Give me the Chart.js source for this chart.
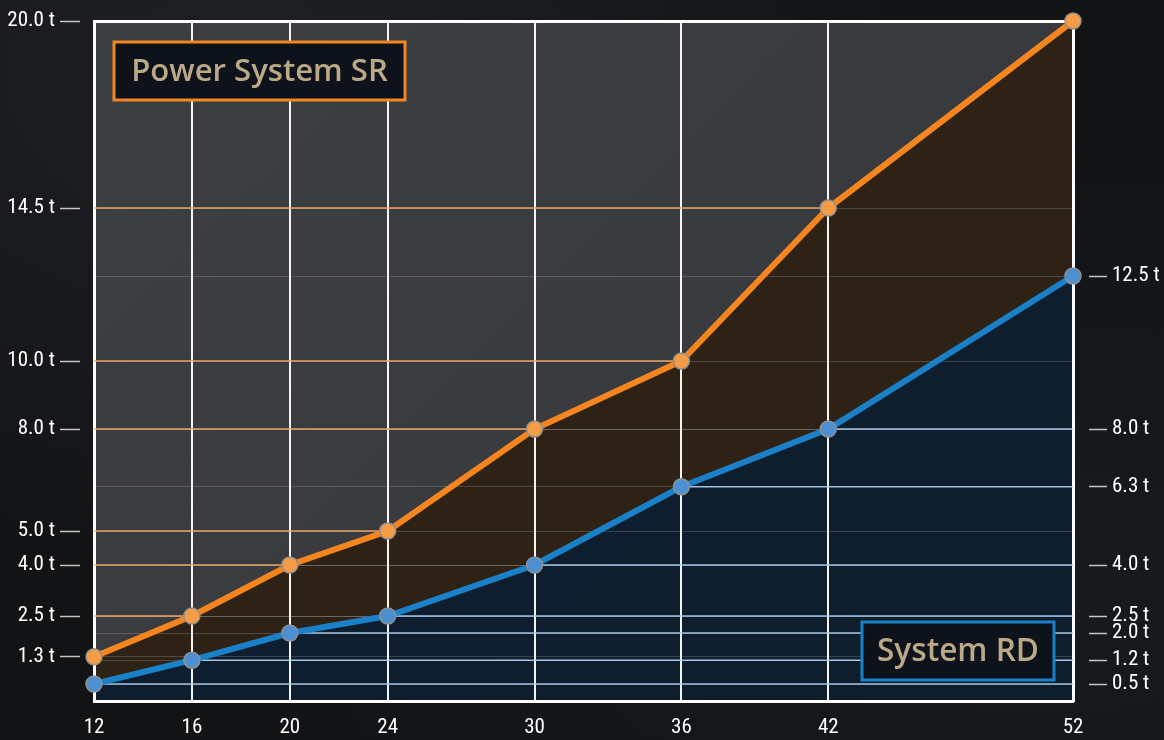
<!DOCTYPE html>
<html><head><meta charset="utf-8">
<script src="https://cdn.jsdelivr.net/npm/chart.js@4.4.0/dist/chart.umd.min.js"></script>
<style>
html,body{margin:0;padding:0;}
body{width:1164px;height:740px;overflow:hidden;
 background:
  radial-gradient(ellipse at 20% 10%, rgba(40,42,46,0.55) 0%, rgba(0,0,0,0) 55%),
  radial-gradient(ellipse at 90% 80%, rgba(30,34,38,0.5) 0%, rgba(0,0,0,0) 60%),
  #111315;}
#wrap{position:relative;width:1164px;height:740px;}
#area{position:absolute;background:linear-gradient(135deg,#3e3f43 0%,#3a3b3f 50%,#333438 100%);z-index:0;}
#c{position:relative;z-index:1;}
</style></head>
<body><div id="wrap"><div id="area"></div><canvas id="c" width="1164" height="740"></canvas></div>
<script>
// ---- data ----
const capacities = [12, 16, 20, 24, 30, 36, 42, 52];
const powerSystemSR = [1.3, 2.5, 4.0, 5.0, 8.0, 10.0, 14.5, 20.0];
const systemRD = [0.5, 1.2, 2.0, 2.5, 4.0, 6.3, 8.0, 12.5];
const srName = 'Power System SR';
const rdName = 'System RD';
const yMin = 0, yMax = 20;

const NARROW = '"Liberation Sans Narrow", "Roboto Condensed", "DejaVu Sans Condensed", "Roboto", sans-serif';
const fmtT = v => Number(v).toFixed(1) + ' t';
const pts = ys => capacities.map((x, i) => ({x: x, y: ys[i]}));

const ORANGE = '#f5861f', BLUE = '#1a80c8';

const datasets = [
  {label: srName, data: pts(powerSystemSR), yAxisID: 'y', borderColor: ORANGE, borderWidth: 6,
   pointRadius: 8, pointHoverRadius: 8, pointBackgroundColor: '#f49c46', pointBorderColor: '#8f8f8f', pointBorderWidth: 1.5,
   fill: '+1', backgroundColor: 'rgba(45,31,18,0.9)', order: 0, clip: false, tension: 0},
  {label: rdName, data: pts(systemRD), yAxisID: 'y', borderColor: BLUE, borderWidth: 6,
   pointRadius: 8, pointHoverRadius: 8, pointBackgroundColor: '#4d90d1', pointBorderColor: '#8f8f8f', pointBorderWidth: 1.5,
   fill: 'origin', backgroundColor: 'rgba(11,28,44,0.92)', order: 1, clip: false, tension: 0}
];
// leader lines: orange from left edge to the point, blue from the point to right edge
powerSystemSR.forEach((v, i) => {
  if (v >= yMax || i === 0) return;
  datasets.push({label: '_l', data: [{x: capacities[0], y: v}, {x: capacities[i], y: v}], yAxisID: 'y',
    borderColor: 'rgba(240,168,100,0.95)', borderWidth: 1.5, pointRadius: 0, fill: false, order: 5});
});
systemRD.forEach((v, i) => {
  if (i === capacities.length - 1) return;
  datasets.push({label: '_l', data: [{x: capacities[i], y: v}, {x: capacities[capacities.length - 1], y: v}], yAxisID: 'y',
    borderColor: 'rgba(170,203,235,0.95)', borderWidth: 1.5, pointRadius: 0, fill: false, order: 5});
});

function drawBox(ctx, x, y, w, h, text, border, textW) {
  ctx.save();
  ctx.fillStyle = '#0e121a';
  ctx.fillRect(x, y, w, h);
  ctx.strokeStyle = border;
  ctx.lineWidth = 3;
  ctx.strokeRect(x, y, w, h);
  let size = 26;
  ctx.font = '600 ' + size + 'px "Open Sans", "Lato", sans-serif';
  const m = ctx.measureText(text).width;
  size = size * textW / m;
  ctx.font = '600 ' + size.toFixed(1) + 'px "Open Sans", "Lato", sans-serif';
  ctx.fillStyle = '#bba887';
  ctx.textAlign = 'center';
  ctx.textBaseline = 'middle';
  ctx.fillText(text, x + w / 2, y + h / 2 + 1);
  ctx.restore();
}

const boxPlugin = {
  id: 'boxes',
  afterDatasetsDraw(chart) {
    const {ctx, chartArea: a} = chart;
    drawBox(ctx, a.left + 20, a.top + 21, 291, 58, srName, '#f5861f', 257);
    drawBox(ctx, a.right - 19 - 192, a.bottom - 21 - 58, 192, 58, rdName, '#1a80c8', 162);
  }
};

const chart = new Chart(document.getElementById('c'), {
  type: 'line',
  data: {datasets},
  options: {
    responsive: false,
    animation: false,
    devicePixelRatio: 1,
    layout: {padding: {top: 21, left: 0, right: 0, bottom: 0}},
    plugins: {legend: {display: false}, tooltip: {enabled: false}, filler: {drawTime: 'beforeDraw'}},
    scales: {
      x: {
        type: 'linear', position: 'bottom', min: capacities[0], max: capacities[capacities.length - 1],
        afterBuildTicks: ax => { ax.ticks = capacities.map(v => ({value: v})); },
        afterFit: ax => { ax.height = 39; },
        grid: {color: 'rgba(255,255,255,0.95)', lineWidth: 2, drawTicks: false},
        border: {color: '#ffffff', width: 3},
        ticks: {color: '#ffffff', font: {family: NARROW, size: 21}, padding: 14, autoSkip: false, maxRotation: 0,
                callback: v => String(v)}
      },
      y: {
        type: 'linear', position: 'left', min: yMin, max: yMax,
        afterBuildTicks: ax => { ax.ticks = powerSystemSR.map(v => ({value: v})); },
        afterFit: ax => { ax.width = 94; },
        grid: {
          color: c => (c.tick && c.tick.value >= yMax) ? '#ffffff' : 'rgba(255,255,255,0.17)',
          lineWidth: c => (c.tick && c.tick.value >= yMax) ? 3 : 1,
          drawTicks: true, tickLength: 34, tickColor: 'rgba(255,255,255,0.75)', tickWidth: 1.5,
          tickBorderDash: [20, 100]
        },
        border: {color: '#ffffff', width: 3},
        ticks: {color: '#ffffff', font: {family: NARROW, size: 21}, padding: 5, autoSkip: false, callback: v => fmtT(v)}
      },
      y2: {
        type: 'linear', position: 'right', min: yMin, max: yMax,
        afterBuildTicks: ax => { ax.ticks = systemRD.map(v => ({value: v})); },
        afterFit: ax => { ax.width = 91; },
        grid: {
          color: 'rgba(255,255,255,0.17)', lineWidth: 1,
          drawTicks: true, tickLength: 34, tickColor: 'rgba(255,255,255,0.75)', tickWidth: 1.5,
          tickBorderDash: [0, 14, 20, 100]
        },
        border: {color: '#ffffff', width: 3},
        ticks: {color: '#ffffff', font: {family: NARROW, size: 21}, padding: 5, autoSkip: false, callback: v => fmtT(v)}
      }
    }
  },
  plugins: [boxPlugin]
});
const a = chart.chartArea, area = document.getElementById('area');
area.style.left = a.left + 'px'; area.style.top = a.top + 'px';
area.style.width = (a.right - a.left) + 'px'; area.style.height = (a.bottom - a.top) + 'px';
</script>
</body></html>
